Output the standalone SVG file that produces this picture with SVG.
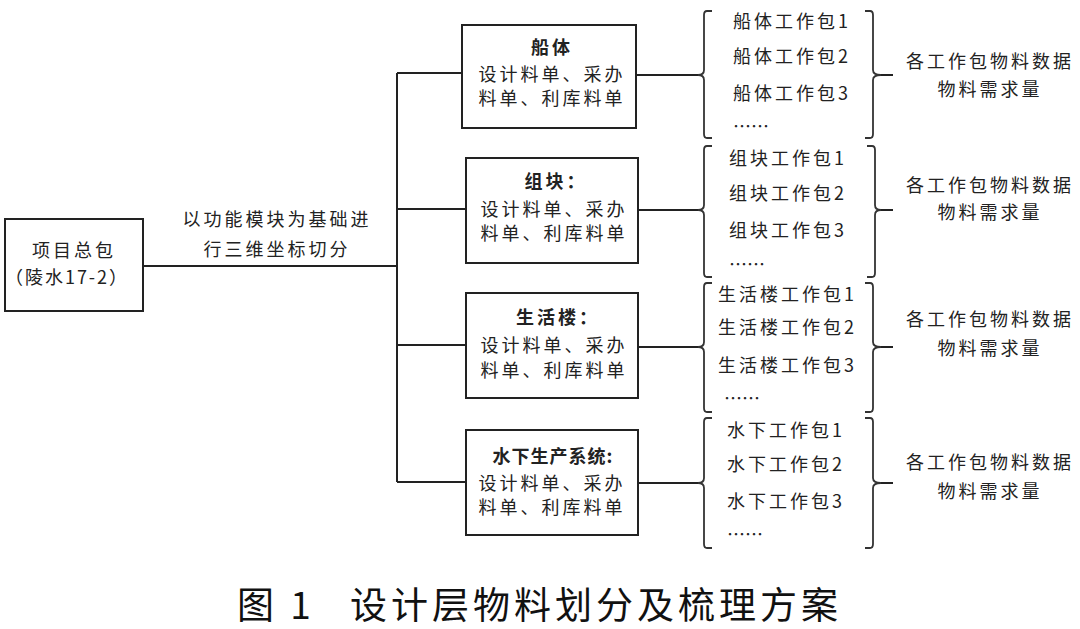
<svg xmlns="http://www.w3.org/2000/svg" width="1080" height="629" viewBox="0 0 1080 629">
<style>
text{font-family:"Noto Sans CJK SC","Liberation Sans",sans-serif;fill:#222;dominant-baseline:central}
.t{font-size:18px;letter-spacing:3px}
.b{font-weight:bold}
.m{text-anchor:middle}
.box{fill:#fff;stroke:#222;stroke-width:2}
.ln{fill:none;stroke:#222;stroke-width:2}
.br{fill:none;stroke:#333;stroke-width:1.8}
.cap{font-size:37px;letter-spacing:4px;font-weight:normal;fill:#111}
</style>
<rect width="1080" height="629" fill="#fff"/>
<g id="connectors">
<path class="ln" d="M143 266H397M397 73V482M397 73H462M397 209H466M397 345H466M397 482H466"/>
<path class="ln" d="M636 75H698M638 210H698M638 347H698M638 483H698"/>
<path class="ln" d="M881 75H893M881 210H893M881 347H893M881 483H893"/>
</g>
<g id="root">
<rect class="box" x="5" y="219" width="138" height="92"/>
<text class="t m" x="74" y="249">项目总包</text>
<text class="t m" x="67" y="276" style="letter-spacing:2px">（陵水17-2）</text>
<text class="t m" x="277" y="218">以功能模块为基础进</text>
<text class="t m" x="277" y="248">行三维坐标切分</text>
</g>
<g id="n1">
<rect class="box" x="462" y="25" width="174" height="103"/>
<text class="t m b" x="552" y="46">船体</text>
<text class="t m" x="552" y="73">设计料单、采办</text>
<text class="t m" x="552" y="97">料单、利库料单</text>
</g>
<g id="n2">
<rect class="box" x="466" y="158" width="172" height="105"/>
<text class="t m b" x="556" y="180">组块：</text>
<text class="t m" x="554" y="208">设计料单、采办</text>
<text class="t m" x="554" y="232">料单、利库料单</text>
</g>
<g id="n3">
<rect class="box" x="466" y="293" width="172" height="105"/>
<text class="t m b" x="558" y="316">生活楼：</text>
<text class="t m" x="554" y="344">设计料单、采办</text>
<text class="t m" x="554" y="369">料单、利库料单</text>
</g>
<g id="n4">
<rect class="box" x="466" y="430" width="172" height="105"/>
<text class="t m b" x="553" y="455" style="letter-spacing:1px">水下生产系统:</text>
<text class="t m" x="552" y="482">设计料单、采办</text>
<text class="t m" x="552" y="506">料单、利库料单</text>
</g>
<g id="g1">
<path class="br" d="M712 11H707Q704 11 704 15V70Q704 75 698 75Q704 75 704 80V134Q704 138 707 138H712"/>
<path class="br" d="M865 11H870Q873 11 873 15V70Q873 75 881 75Q873 75 873 80V134Q873 138 870 138H865"/>
<text class="t" x="733" y="20">船体工作包1</text>
<text class="t" x="733" y="55">船体工作包2</text>
<text class="t" x="733" y="92">船体工作包3</text>
<text class="t" x="733" y="125" style="letter-spacing:0">……</text>
<text class="t m" x="990" y="60">各工作包物料数据</text>
<text class="t m" x="990" y="88">物料需求量</text>
</g>
<g id="g2">
<path class="br" d="M712 146H707Q704 146 704 150V205Q704 210 698 210Q704 210 704 215V273Q704 277 707 277H712"/>
<path class="br" d="M867 146H872Q875 146 875 150V205Q875 210 881 210Q875 210 875 215V273Q875 277 872 277H867"/>
<text class="t" x="729" y="157">组块工作包1</text>
<text class="t" x="729" y="192">组块工作包2</text>
<text class="t" x="729" y="229">组块工作包3</text>
<text class="t" x="729" y="263" style="letter-spacing:0">……</text>
<text class="t m" x="990" y="184">各工作包物料数据</text>
<text class="t m" x="990" y="211">物料需求量</text>
</g>
<g id="g3">
<path class="br" d="M712 283H707Q704 283 704 287V342Q704 347 698 347Q704 347 704 352V408Q704 412 707 412H712"/>
<path class="br" d="M865 283H870Q873 283 873 287V342Q873 347 881 347Q873 347 873 352V408Q873 412 870 412H865"/>
<text class="t" x="718" y="293">生活楼工作包1</text>
<text class="t" x="718" y="326">生活楼工作包2</text>
<text class="t" x="718" y="364">生活楼工作包3</text>
<text class="t" x="724" y="397" style="letter-spacing:0">……</text>
<text class="t m" x="990" y="318">各工作包物料数据</text>
<text class="t m" x="990" y="347">物料需求量</text>
</g>
<g id="g4">
<path class="br" d="M712 418H707Q704 418 704 422V478Q704 483 698 483Q704 483 704 488V544Q704 548 707 548H712"/>
<path class="br" d="M865 418H870Q873 418 873 422V478Q873 483 881 483Q873 483 873 488V544Q873 548 870 548H865"/>
<text class="t" x="727" y="429">水下工作包1</text>
<text class="t" x="727" y="463">水下工作包2</text>
<text class="t" x="727" y="500">水下工作包3</text>
<text class="t" x="727" y="533" style="letter-spacing:0">……</text>
<text class="t m" x="990" y="461">各工作包物料数据</text>
<text class="t m" x="990" y="490">物料需求量</text>
</g>
<text class="cap" y="603"><tspan x="237">图 1</tspan><tspan x="350">设计层物料划分及梳理方案</tspan></text>
</svg>
